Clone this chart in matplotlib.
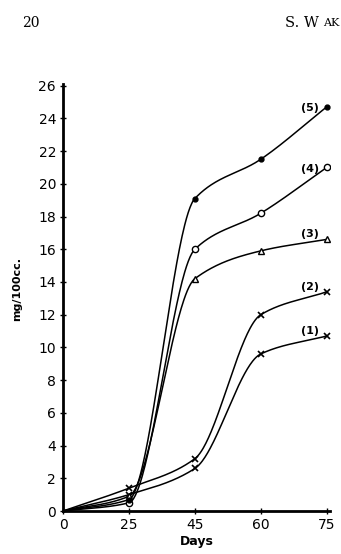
import numpy as np
import matplotlib
matplotlib.use("Agg")
import matplotlib.pyplot as plt

days = [0, 25, 45, 60, 75]
yticks = [0, 2, 4, 6, 8, 10, 12, 14, 16, 18, 20, 22, 24, 26]
s1 = [0, 1.0, 2.6, 9.6, 10.7]
s2 = [0, 1.4, 3.2, 12.0, 13.4]
s3 = [0, 0.9, 14.2, 15.9, 16.6]
s4 = [0, 0.5, 16.0, 18.2, 21.0]
s5 = [0, 0.7, 19.1, 21.5, 24.7]
labels = ["(1)", "(2)", "(3)", "(4)", "(5)"]


def pchip(x, y, xs):
    x = np.asarray(x, float); y = np.asarray(y, float)
    h = np.diff(x); d = np.diff(y) / h
    m = np.zeros_like(y)
    for k in range(1, len(x) - 1):
        if d[k - 1] * d[k] > 0:
            w1 = 2 * h[k] + h[k - 1]; w2 = h[k] + 2 * h[k - 1]
            m[k] = (w1 + w2) / (w1 / d[k - 1] + w2 / d[k])
    m[0] = d[0]; m[-1] = d[-1]
    out = np.empty_like(xs)
    for i, xv in enumerate(xs):
        k = min(np.searchsorted(x, xv, side="right") - 1, len(x) - 2)
        t = (xv - x[k]) / h[k]
        h00 = 2 * t**3 - 3 * t**2 + 1; h10 = t**3 - 2 * t**2 + t
        h01 = -2 * t**3 + 3 * t**2; h11 = t**3 - t**2
        out[i] = h00 * y[k] + h10 * h[k] * m[k] + h01 * y[k + 1] + h11 * h[k] * m[k + 1]
    return out


fig = plt.figure(figsize=(3.41, 5.54), dpi=100)
ax = fig.add_axes([0.1848, 0.0776, 0.783, 0.7708])

xpos = np.arange(len(days))
xs = np.linspace(0, len(days) - 1, 300)
series = [s1, s2, s3, s4, s5]
markers = [dict(marker="x", ms=4, mew=1.2, mfc="black"),
           dict(marker="x", ms=4, mew=1.2, mfc="black"),
           dict(marker="^", ms=4.5, mew=1.0, mfc="white"),
           dict(marker="o", ms=4.5, mew=1.0, mfc="white"),
           dict(marker="o", ms=3.5, mew=1.0, mfc="black")]
offsets = [(-17, 5), (-17, 5), (-17, 5), (-17, -2), (-17, -1)]
for s, mk, lab, off in zip(series, markers, labels, offsets):
    ax.plot(xs, pchip(xpos, s, xs), color="black", lw=1.1)
    ax.plot(xpos[1:], s[1:], ls="none", color="black", mec="black", **mk)
    ax.annotate(lab, (xpos[-1], s[-1]), xytext=off, textcoords="offset pixels",
                ha="center", va="center", fontsize=8, fontweight="bold")

ax.set_xlim(0, 4.05)
ax.set_ylim(0, 26.1)
ax.set_xticks(xpos)
ax.set_xticklabels([str(d) for d in days], fontsize=10)
ax.set_yticks(yticks)
ax.set_yticklabels([str(t) for t in yticks], fontsize=10)
for sp in ["top", "right"]:
    ax.spines[sp].set_visible(False)
for sp in ["left", "bottom"]:
    ax.spines[sp].set_linewidth(2)
ax.tick_params(direction="inout", length=4, width=1, pad=3)
ax.set_xlabel("Days", fontsize=9, fontweight="bold", labelpad=2)
ax.set_ylabel("mg/100cc.", fontsize=8, fontweight="bold", labelpad=8)
ax.yaxis.set_label_coords(-0.155, 0.52)

fig.text(0.065, 0.958, "20", fontsize=10, family="DejaVu Serif", ha="left", va="center")
fig.text(0.835, 0.958, "S. W", fontsize=10.5, family="DejaVu Serif", ha="left", va="center")
fig.text(0.948, 0.958, "AK", fontsize=8, family="DejaVu Serif", ha="left", va="center")

fig.savefig("out.png", dpi=100)
